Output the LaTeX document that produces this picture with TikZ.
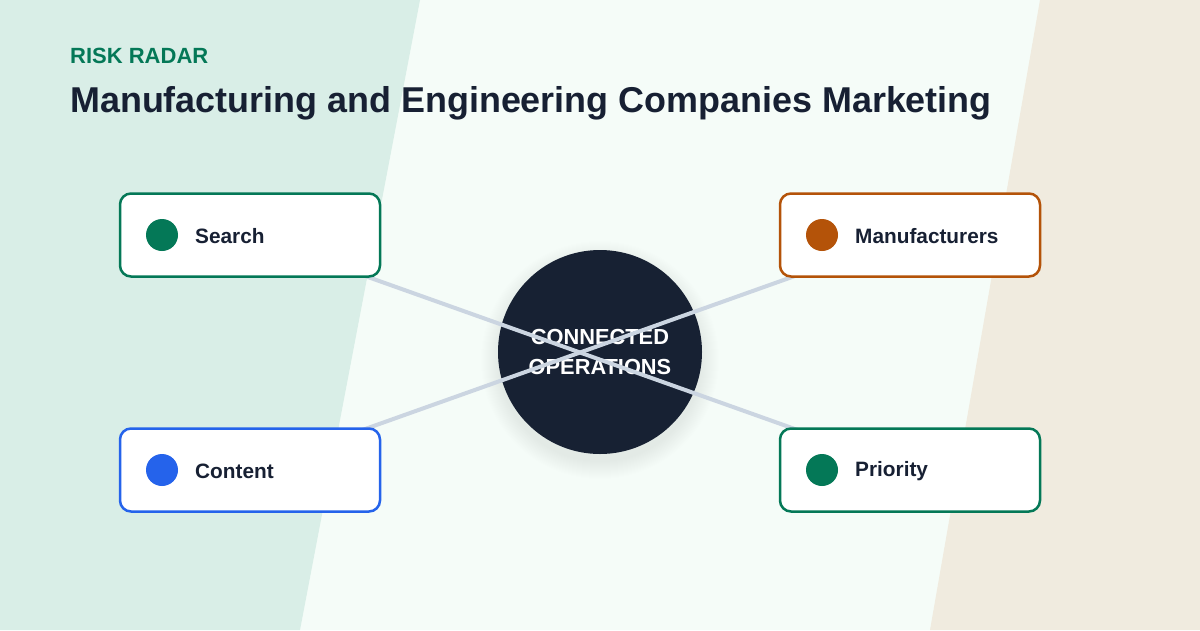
\documentclass[tikz,border=0pt]{standalone}
\usepackage{fontspec}
\setmainfont{Liberation Sans}
\definecolor{bgleft}{HTML}{D9EEE7}
\definecolor{bgmid}{HTML}{F5FCF8}
\definecolor{bgright}{HTML}{F0EBDF}
\definecolor{accgreen}{HTML}{047857}
\definecolor{accorange}{HTML}{B45309}
\definecolor{accblue}{HTML}{2563EB}
\definecolor{ink}{HTML}{172033}
\definecolor{hub}{HTML}{172133}
\definecolor{link}{HTML}{CBD5E1}
\tikzset{
  card/.style={draw=#1, line width=2.5pt, fill=white, rounded corners=11pt,
    minimum width=260pt, minimum height=83pt, inner sep=0pt},
  dot/.style={circle, fill=#1, minimum size=32pt, inner sep=0pt},
  cardtext/.style={anchor=west, font=\fontsize{20.8}{24}\selectfont\bfseries, text=ink, inner sep=0pt},
  linkline/.style={draw=link, line width=4pt},
}
\begin{document}
\begin{tikzpicture}[x=1pt,y=-1pt]
\useasboundingbox (0,0) rectangle (1200,630);
\fill[bgmid] (0,0) rectangle (1200,630);
\fill[bgleft] (0,0) -- (420,0) -- (300,630) -- (0,630) -- cycle;
\fill[bgright] (1040,0) -- (1200,0) -- (1200,630) -- (930,630) -- cycle;

\node[anchor=base west, inner sep=0pt, text=accgreen, font=\fontsize{22}{24}\selectfont\bfseries] (kicker) at (70,63) {RISK RADAR};
\node[anchor=base west, inner sep=0pt, text=ink, font=\fontsize{35.9}{40}\selectfont\bfseries] (title) at (70,112) {Manufacturing and Engineering Companies Marketing};

\foreach \r in {1,...,18}
  \fill[black, opacity=0.005] (600,360) circle[radius=101+\r];
\node[circle, fill=hub, minimum size=204pt, inner sep=0pt] (hub) at (600,352) {};
\node[text=white, font=\fontsize{21.8}{30}\selectfont\bfseries, align=center, inner sep=0pt] (hubtext) at (600,352) {CONNECTED\\OPERATIONS};

\coordinate (cs) at (250,235);
\coordinate (cm) at (910,235);
\coordinate (cc) at (250,470);
\coordinate (cp) at (910,470);
\draw[linkline] (cs) -- (cp);
\draw[linkline] (cc) -- (cm);

\node[card=accgreen] (search) at (250,235) {};
\node[dot=accgreen] (searchdot) at (162,235) {};
\node[cardtext] (searchtext) at (195,236) {Search};

\node[card=accorange] (manu) at (910,235) {};
\node[dot=accorange] (manudot) at (822,235) {};
\node[cardtext] (manutext) at (855,236) {Manufacturers};

\node[card=accblue] (content) at (250,470) {};
\node[dot=accblue] (contentdot) at (162,470) {};
\node[cardtext] (contenttext) at (195,471) {Content};

\node[card=accgreen] (prio) at (910,470) {};
\node[dot=accgreen] (priodot) at (822,470) {};
\node[cardtext] (priotext) at (855,471) {Priority};
\end{tikzpicture}
\end{document}
